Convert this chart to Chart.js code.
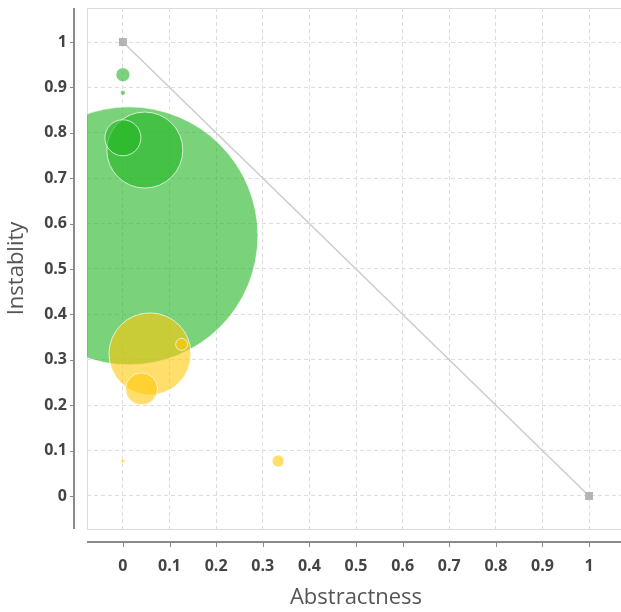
<!DOCTYPE html>
<html lang="en">

<head>
    <meta charset="UTF-8">
    <title>Abstractness vs Instablity</title>
    <script src="https://cdn.jsdelivr.net/npm/chart.js"></script>
    <style>
        body { margin: 0; overflow: hidden; background: #fff; }
        #wrap { width: 640px; height: 612px; }
    </style>
</head>

<body>
    <div id="wrap"><canvas id="myChart1"></canvas></div>
</body>
<script>
    // green packages
    const greenX = [0.013, 0.047, 0, 0, 0];
    const greenY = [0.573, 0.762, 0.789, 0.928, 0.888];
    const greenSize = [129, 38, 18, 7, 2.5];

    // yellow packages
    const yellowX = [0.058, 0.04, 0.126, 0, 0.333];
    const yellowY = [0.313, 0.236, 0.334, 0.077, 0.077];
    const yellowSize = [41, 16, 6, 2, 6];

    // main sequence line
    const mainSeqX = [0, 1];
    const mainSeqY = [1, 0];

    const tickValues = [0, 0.1, 0.2, 0.3, 0.4, 0.5, 0.6, 0.7, 0.8, 0.9, 1];

    const toPoints = (xs, ys, rs) => xs.map((x, i) => ({ x: x, y: ys[i], r: rs ? rs[i] : undefined }));

    // plot border + detached axis lines
    const frame = {
        id: "frame",
        beforeDatasetsDraw(chart) {
            const { ctx, chartArea: a } = chart;
            ctx.save();
            ctx.strokeStyle = "#dcdcdc";
            ctx.lineWidth = 1;
            ctx.strokeRect(a.left + 0.5, a.top + 0.5, a.right - a.left, a.bottom - a.top);
            ctx.strokeStyle = "#8a8a8a";
            ctx.lineWidth = 2;
            ctx.beginPath();
            ctx.moveTo(74, a.top);
            ctx.lineTo(74, a.bottom);
            ctx.moveTo(a.left, 542);
            ctx.lineTo(chart.width, 542);
            ctx.stroke();
            ctx.lineWidth = 1;
            ctx.beginPath();
            const xs = chart.scales.x, ys = chart.scales.y;
            tickValues.forEach((v) => {
                const px = Math.round(xs.getPixelForValue(v)) + 0.5;
                ctx.moveTo(px, 542);
                ctx.lineTo(px, 547);
                const py = Math.round(ys.getPixelForValue(v)) + 0.5;
                ctx.moveTo(70, py);
                ctx.lineTo(74, py);
            });
            ctx.stroke();
            ctx.restore();
        }
    };

    const tickFont = { family: "Open Sans", size: 16, weight: "bold" };
    const fmt = (v) => String(Math.round(v * 10) / 10);

    const ctx = document.getElementById("myChart1");
    new Chart(ctx, {
        type: "bubble",
        data: {
            datasets: [
                {
                    type: "line",
                    label: "Main sequence",
                    data: toPoints(mainSeqX, mainSeqY),
                    borderColor: "#cccccc",
                    borderWidth: 1.5,
                    pointStyle: "rect",
                    pointRadius: 4.5,
                    pointBackgroundColor: "#b4b4b4",
                    pointBorderColor: "#b4b4b4",
                    order: 3,
                },
                {
                    label: "Stable",
                    data: toPoints(greenX, greenY, greenSize),
                    backgroundColor: "rgba(34, 182, 34, 0.6)",
                    borderColor: "rgba(255, 255, 255, 0.7)",
                    borderWidth: 1,
                    order: 2,
                },
                {
                    label: "Unstable",
                    data: toPoints(yellowX, yellowY, yellowSize),
                    backgroundColor: "rgba(255, 200, 10, 0.6)",
                    borderColor: "rgba(255, 255, 255, 0.7)",
                    borderWidth: 1,
                    order: 1,
                },
            ],
        },
        options: {
            responsive: true,
            maintainAspectRatio: false,
            animation: false,
            layout: { autoPadding: false, padding: { top: 8, right: 15, left: 0, bottom: 0 } },
            plugins: { legend: { display: false }, tooltip: { enabled: false } },
            scales: {
                x: {
                    type: "linear",
                    min: -0.077,
                    max: 1.077,
                    afterBuildTicks: (axis) => { axis.ticks = tickValues.map((v) => ({ value: v })); },
                    afterFit: (axis) => { axis.height = 83; axis.paddingLeft = 0; axis.paddingRight = 0; },
                    border: { display: false, dash: [4, 3] },
                    grid: { color: "#dddddd", drawTicks: false },
                    ticks: { padding: 28, color: "#444444", font: tickFont, callback: fmt },
                    title: {
                        display: true,
                        text: "Abstractness",
                        color: "#555555",
                        font: { family: "Open Sans", size: 22 },
                        padding: { top: 0, bottom: 1 },
                    },
                },
                y: {
                    type: "linear",
                    min: -0.0727,
                    max: 1.0749,
                    afterBuildTicks: (axis) => { axis.ticks = tickValues.map((v) => ({ value: v })); },
                    afterFit: (axis) => { axis.width = 87; axis.paddingTop = 0; axis.paddingBottom = 0; },
                    border: { display: false, dash: [4, 3] },
                    grid: { color: "#dddddd", drawTicks: false },
                    ticks: { padding: 20, color: "#444444", font: tickFont, callback: fmt },
                    title: {
                        display: true,
                        text: "Instablity",
                        color: "#555555",
                        font: { family: "Open Sans", size: 22 },
                        padding: { top: 4, bottom: 0 },
                    },
                },
            },
        },
        plugins: [frame],
    });
</script>

</html>
